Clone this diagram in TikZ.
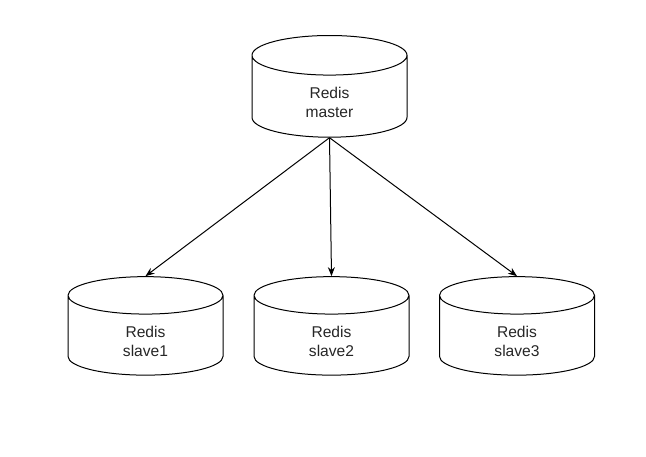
\documentclass[tikz,border=0pt]{standalone}
\usepackage{fontspec}
\setmainfont{Liberation Sans}
\usetikzlibrary{shapes.geometric,arrows.meta}
\newcommand\dbtext[2]{\rule{0pt}{23pt}#1\\#2}
\tikzset{
	db/.style={cylinder,shape border rotate=90,draw,line width=1pt,aspect=0.83,
		minimum width=155pt,minimum height=98pt,inner sep=0pt,align=center,
		font=\fontsize{15.6}{18.7}\selectfont,text=black!85},
	link/.style={line width=1pt,-{Stealth[length=9pt,width=7pt]}}
}
\begin{document}
\begin{tikzpicture}[x=1pt,y=1pt]
	\useasboundingbox (0,0) rectangle (646,456);
	\node[db] (master) at (329.5,359.5) {\dbtext{Redis}{master}};
	\node[db] (slave1) at (145.5,120.5) {\dbtext{Redis}{slave1}};
	\node[db] (slave2) at (331.5,120.5) {\dbtext{Redis}{slave2}};
	\node[db] (slave3) at (517,120.5) {\dbtext{Redis}{slave3}};
	\foreach\s in{slave1,slave2,slave3} {\draw[link] (master.south) -- (\s.north);}
\end{tikzpicture}
\end{document}
